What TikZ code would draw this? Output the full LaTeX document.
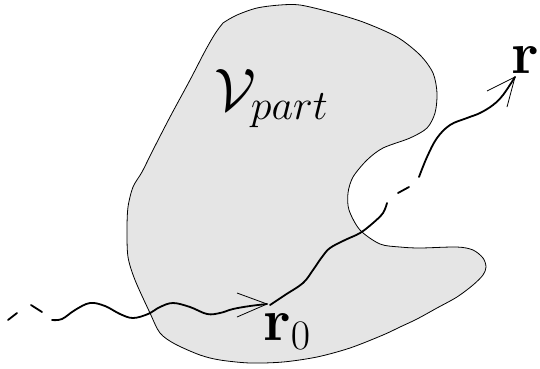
\documentclass[tikz,border=0pt]{standalone}
\usepackage{fix-cm}
\usepackage{amsmath}
\begin{document}
\begin{tikzpicture}[x=1pt,y=-1pt,
  blob/.style={draw=black,line width=0.8pt,fill={rgb,255:red,229;green,229;blue,229}},
  walk/.style={draw=black,line width=1.8pt,line cap=round,line join=round},
  barb/.style={draw=black,line width=0.8pt},
  lbl/.style={inner sep=0pt,font=\fontsize{60}{72}\selectfont}]
\useasboundingbox (0,0) rectangle (540,368);
% region
\path[blob] plot[smooth cycle,tension=0.5] coordinates {
 (219,28) (223,23) (237,15) (257,8) (280,5) (300,5) (330,12) (363,22) (397,37)
 (420,55) (433,73) (437,93) (435,113) (427,128) (410,138) (383,148) (367,160)
 (353,177) (348,193) (349,210) (360,230) (380,244) (400,247) (420,248) (457,247)
 (473,250) (483,258) (486,267) (483,275) (473,285) (457,297) (437,308) (417,319)
 (400,327) (383,335) (350,348) (317,357) (283,362) (250,363) (220,360) (200,355)
 (175,344) (160,333) (150,313) (135,280) (128,257) (127,230) (128,207) (133,187)
 (142,172) (153,150) (170,117) (190,80) (204,53) (213,37)};
% coordinates
\coordinate (t0) at (267,304);
\coordinate (b0a) at (237,293);
\coordinate (b0b) at (237,317);
\coordinate (t1) at (515,77);
\coordinate (b1a) at (487,91);
\coordinate (b1b) at (507,107);
% walk
\draw[walk] (8,320) -- (17,313);
\draw[walk] (31,305) -- (42,312);
\draw[walk] plot[smooth,tension=0.6] coordinates {(52,320) (62,319) (75,310) (90,303)
 (105,306) (120,314) (133,318) (148,314) (160,307) (173,303) (190,307) (207,314)
 (220,313) (233,309) (250,306) (267,304)};
\draw[walk] plot[smooth,tension=0.6] coordinates {(270,305) (285,295) (303,283) (313,270)
 (322,257) (330,248) (345,240) (360,233) (373,223) (383,213) (387,203)};
\draw[walk] (398,193) -- (409,187);
\draw[walk] plot[smooth,tension=0.6] coordinates {(419,177) (427,157) (437,138) (450,125)
 (467,118) (480,113) (493,105) (503,95) (515,77)};
% arrow barbs
\draw[barb] (b0a) -- (t0) -- (b0b);
\draw[barb] (b1a) -- (t1) -- (b1b);
% labels
\node[lbl,anchor=base west] (r) at (511,73) {$\mathbf{r}$};
\node[lbl,anchor=base west] (r0) at (263,340) {$\mathbf{r}_0$};
\node[lbl,anchor=base west] (V) at (214,110) {$\mathcal{V}_{part}$};
\end{tikzpicture}
\end{document}
